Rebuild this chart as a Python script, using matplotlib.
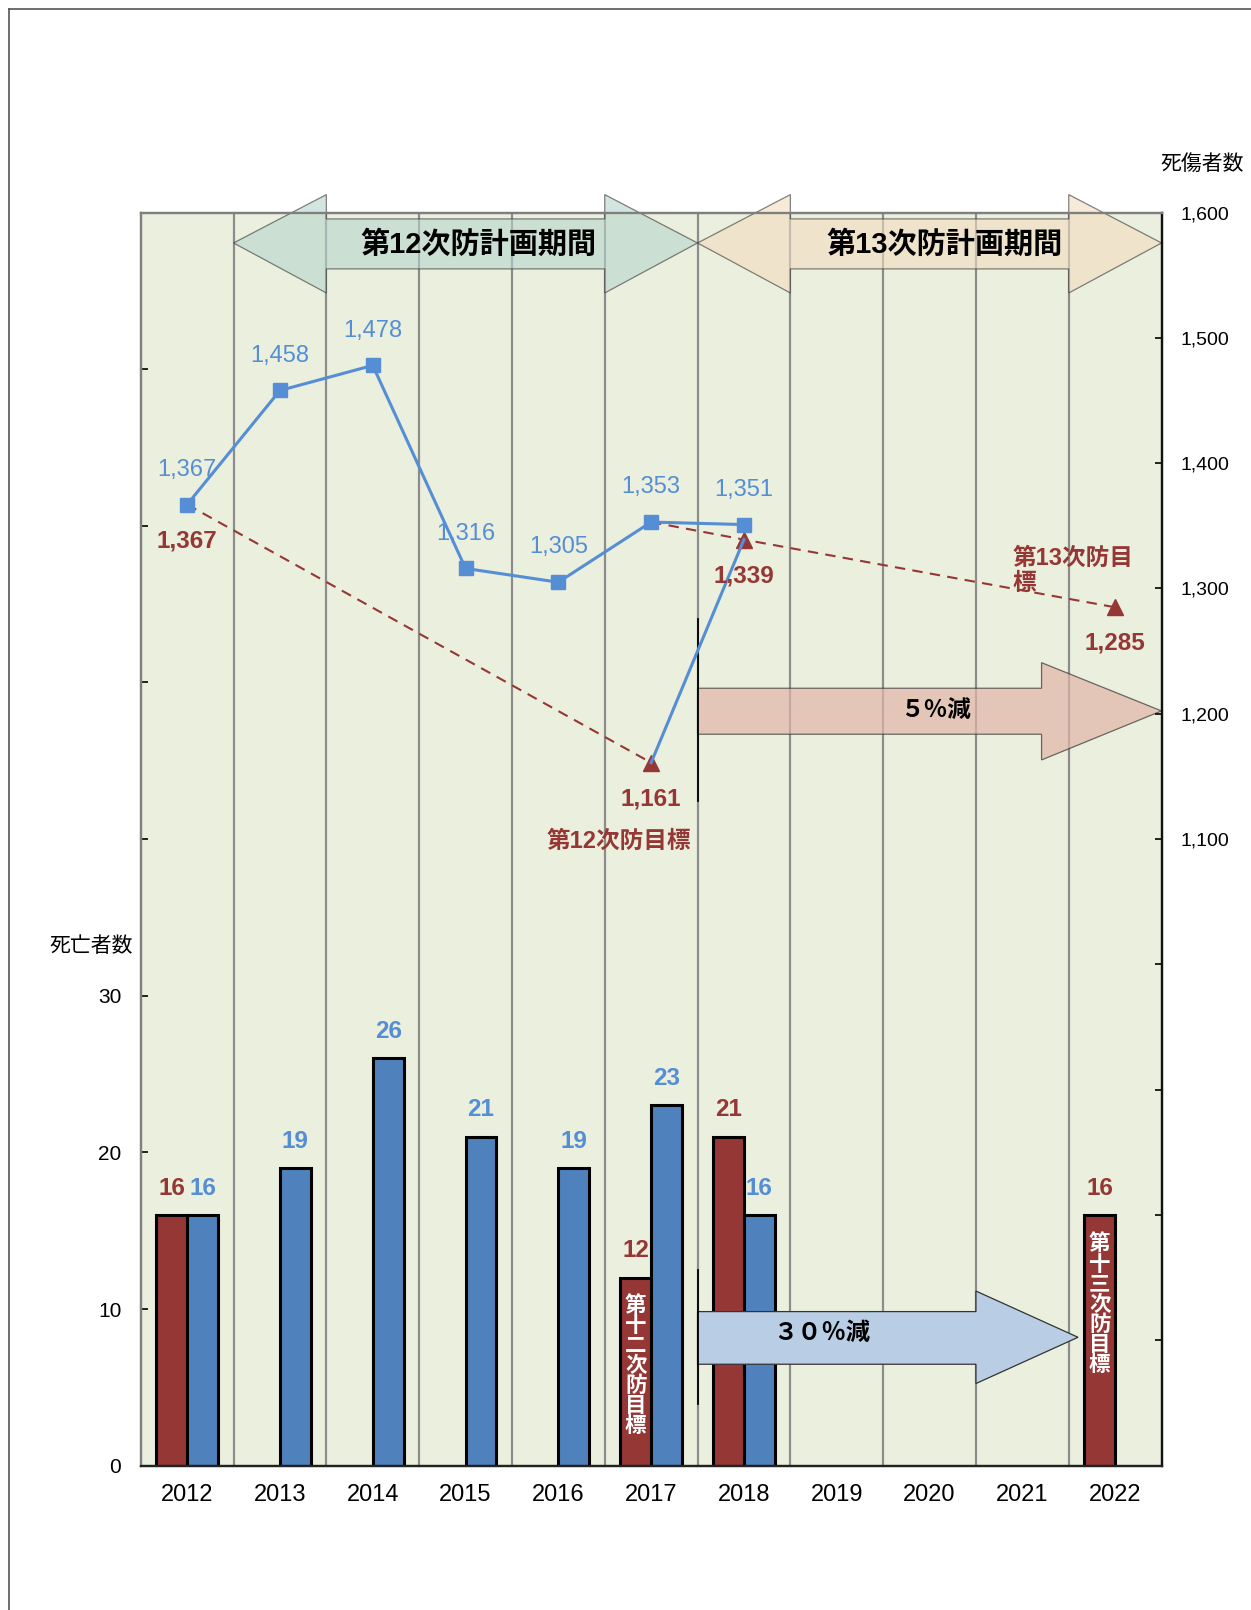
import matplotlib
matplotlib.use("Agg")
import matplotlib.pyplot as plt
from matplotlib.patches import Polygon
from matplotlib.lines import Line2D
import numpy as np

plt.rcParams['font.family'] = ['Liberation Sans', 'Noto Sans CJK JP', 'DejaVu Sans']

# ---------------- data ----------------
years = ['2012', '2013', '2014', '2015', '2016', '2017', '2018', '2019', '2020', '2021', '2022']
deaths_target = [16, None, None, None, None, 12, 21, None, None, None, 16]
deaths_actual = [16, 19, 26, 21, 19, 23, 16, None, None, None, None]
casualty_years = [0, 1, 2, 3, 4, 5, 6]
casualties = [1367, 1458, 1478, 1316, 1305, 1353, 1351]
target12_years = [0, 5]
target12_values = [1367, 1161]
target13_years = [5, 6, 10]
target13_values = [1353, 1339, 1285]
link_years = [5, 6]
link_values = [1161, 1339]
bar_texts = {5: '第十二次防目標', 10: '第十三次防目標'}

RED = '#953735'
BLUE = '#4F81BD'
LBLUE = '#558ED5'
BG = '#EBEFDE'

fig = plt.figure(figsize=(12.51, 16.10), dpi=100)
ax = fig.add_axes([0.1125, 0.0896, 0.9285 - 0.1125, 0.8680 - 0.0896])
ax2 = ax.twinx()
ax.set_zorder(1)
ax2.set_zorder(2)
ax.set_facecolor(BG)
ax2.patch.set_visible(False)

x = np.arange(len(years))
w = 1 / 3
ax.set_xlim(-0.5, len(years) - 0.5)
ax.set_ylim(0, 80)
ax2.set_ylim(600, 1600)

# vertical grid lines
for g in np.arange(0.5, len(years) - 0.5, 1):
    ax.axvline(g, color='#8C8C8C', lw=1.6, zorder=0.5)

# bars
for i, v in enumerate(deaths_target):
    if v is not None:
        ax.bar(x[i] - w / 2, v, w, color=RED, edgecolor='black', lw=2.2, zorder=2)
        ax.annotate(str(v), (x[i] - w / 2, v), xytext=(0, 19.5), textcoords='offset points',
                    ha='center', va='center', color=RED, fontsize=17.5, fontweight='bold', zorder=5)
for i, v in enumerate(deaths_actual):
    if v is not None:
        ax.bar(x[i] + w / 2, v, w, color=BLUE, edgecolor='black', lw=2.2, zorder=2)
        ax.annotate(str(v), (x[i] + w / 2, v), xytext=(0, 19.5), textcoords='offset points',
                    ha='center', va='center', color=LBLUE, fontsize=17.5, fontweight='bold', zorder=5)

for i, t in bar_texts.items():
    ax.text(x[i] - w / 2, 6.4 if i == 5 else 10.3, '\n'.join(t), ha='center', va='center',
            color='white', fontsize=15.5, fontweight='bold', linespacing=0.95, zorder=6,
            family=['Noto Sans CJK JP'])

# axes styling
ax.set_xticks(x)
ax.set_xticklabels(years, fontsize=17)
ax.tick_params(axis='x', length=0, pad=13)
ax.set_yticks(np.arange(0, 81, 10))
ax.set_yticklabels([str(v) if v <= 30 else '' for v in range(0, 81, 10)], fontsize=15)
ax.tick_params(axis='y', direction='in', length=5, width=1.2, pad=14)
ax2.set_yticks(np.arange(600, 1601, 100))
ax2.set_yticklabels([f'{v:,}' if v >= 1100 else '' for v in range(600, 1601, 100)], fontsize=14)
ax2.tick_params(axis='y', direction='in', length=5, width=1.2, pad=14)
for a in (ax, ax2):
    a.spines['top'].set_color('#7F7F7F')
    a.spines['left'].set_color('#7F7F7F')
    a.spines['bottom'].set_color('#222222')
    a.spines['right'].set_color('#111111')
    for s in a.spines.values():
        s.set_linewidth(1.6)

# period arrows (ax2 data coords)
def poly(pts, fc, ec='#333333', alpha=1.0, z=1):
    p = Polygon(pts, closed=True, facecolor=fc, edgecolor=ec, lw=0.9, alpha=alpha,
                zorder=z, clip_on=False)
    ax2.add_patch(p)

def double_arrow(x0, xb0, xb1, x1, fc, alpha):
    ymid, bt, bb, ht, hb = 1575.7, 1594.9, 1555.0, 1614.3, 1535.8
    pts = [(x0, ymid), (xb0, ht), (xb0, bt), (xb1, bt), (xb1, ht), (x1, ymid),
           (xb1, hb), (xb1, bb), (xb0, bb), (xb0, hb)]
    poly(pts, fc, alpha=alpha)

double_arrow(0.5, 1.5, 4.5, 5.5, '#B7D5CC', 0.6)
double_arrow(5.5, 6.5, 9.5, 10.5, '#F2DCC0', 0.6)
ax2.text(3.14, 1574.6, '第12次防計画期間', ha='center', va='center', fontsize=21,
         fontweight='bold', color='black', zorder=8)
ax2.text(8.166, 1574, '第13次防計画期間', ha='center', va='center', fontsize=21,
         fontweight='bold', color='black', zorder=8)

def right_arrow(x0, xb, x1, ymid, bt, bb, ht, hb, fc, alpha):
    pts = [(x0, bt), (xb, bt), (xb, ht), (x1, ymid), (xb, hb), (xb, bb), (x0, bb)]
    poly(pts, fc, alpha=alpha)

right_arrow(5.5, 9.207, 10.5, 1202.3, 1220.4, 1183.7, 1240.8, 1163.2, '#E0B5A8', 0.7)
ax2.text(8.066, 1203, '５％減', ha='center', va='center', fontsize=17, fontweight='bold',
         zorder=8, family=['Noto Sans CJK JP'])
right_arrow(5.5, 8.5, 9.6, 702.5, 723, 681, 739.4, 665.6, '#B9CDE5', 1.0)
ax2.text(6.84, 705.9, '３０％減', ha='center', va='center', fontsize=17.5, fontweight='bold',
         zorder=8, family=['Noto Sans CJK JP'])

# thin separators at 2017/2018 boundary
ax2.plot([5.5, 5.5], [1130.4, 1275.7], color='black', lw=1.3, zorder=3)
ax2.plot([5.5, 5.5], [649.3, 755.8], color='black', lw=1.3, zorder=3)

# lines
ax2.plot(target12_years, target12_values, color=RED, lw=1.5, ls=(0, (5, 3.5)), zorder=4)
ax2.plot(target13_years, target13_values, color=RED, lw=1.5, ls=(0, (5, 3.5)), zorder=4)
ax2.plot(target12_years[1:], target12_values[1:], ls='none', marker='^', ms=12, color=RED, zorder=5)
ax2.plot(target13_years[1:], target13_values[1:], ls='none', marker='^', ms=12, color=RED, zorder=5)
ax2.plot(link_years, link_values, color=LBLUE, lw=2.2, zorder=5)
ax2.plot(casualty_years, casualties, color=LBLUE, lw=2.2, marker='s', ms=10.5, zorder=6)

for xi, v in zip(casualty_years, casualties):
    ax2.annotate(f'{v:,}', (xi, v), xytext=(0, 25), textcoords='offset points', ha='center',
                 va='center', color=LBLUE, fontsize=17, zorder=9)

red_labels = [(0, 1367), (5, 1161), (6, 1339), (10, 1285)]
for xi, v in red_labels:
    ax2.annotate(f'{v:,}', (xi, v), xytext=(0, -26), textcoords='offset points', ha='center',
                 va='center', color=RED, fontsize=17.5, fontweight='bold', zorder=9)

ax2.text(4.654, 1098.5, '第12次防目標', ha='center', va='center', color=RED, fontsize=17,
         fontweight='bold', zorder=9)
ax2.text(8.89, 1314, '第13次防目\n標', ha='left', va='center', color=RED, fontsize=17,
         fontweight='bold', linespacing=1.15, zorder=9)

# axis titles
fig.text(1202 / 1251, 1 - 164 / 1610, '死傷者数', ha='center', va='center', fontsize=15)
fig.text(91 / 1251, 1 - 946 / 1610, '死亡者数', ha='center', va='center', fontsize=15)

# page frame lines
fig.add_artist(Line2D([9 / 1251, 1], [1 - 9.5 / 1610, 1 - 9.5 / 1610], color='#555555', lw=1.2))
fig.add_artist(Line2D([9 / 1251, 9 / 1251], [0, 1 - 9.5 / 1610], color='#555555', lw=1.2))

fig.savefig('out.png', dpi=100)
